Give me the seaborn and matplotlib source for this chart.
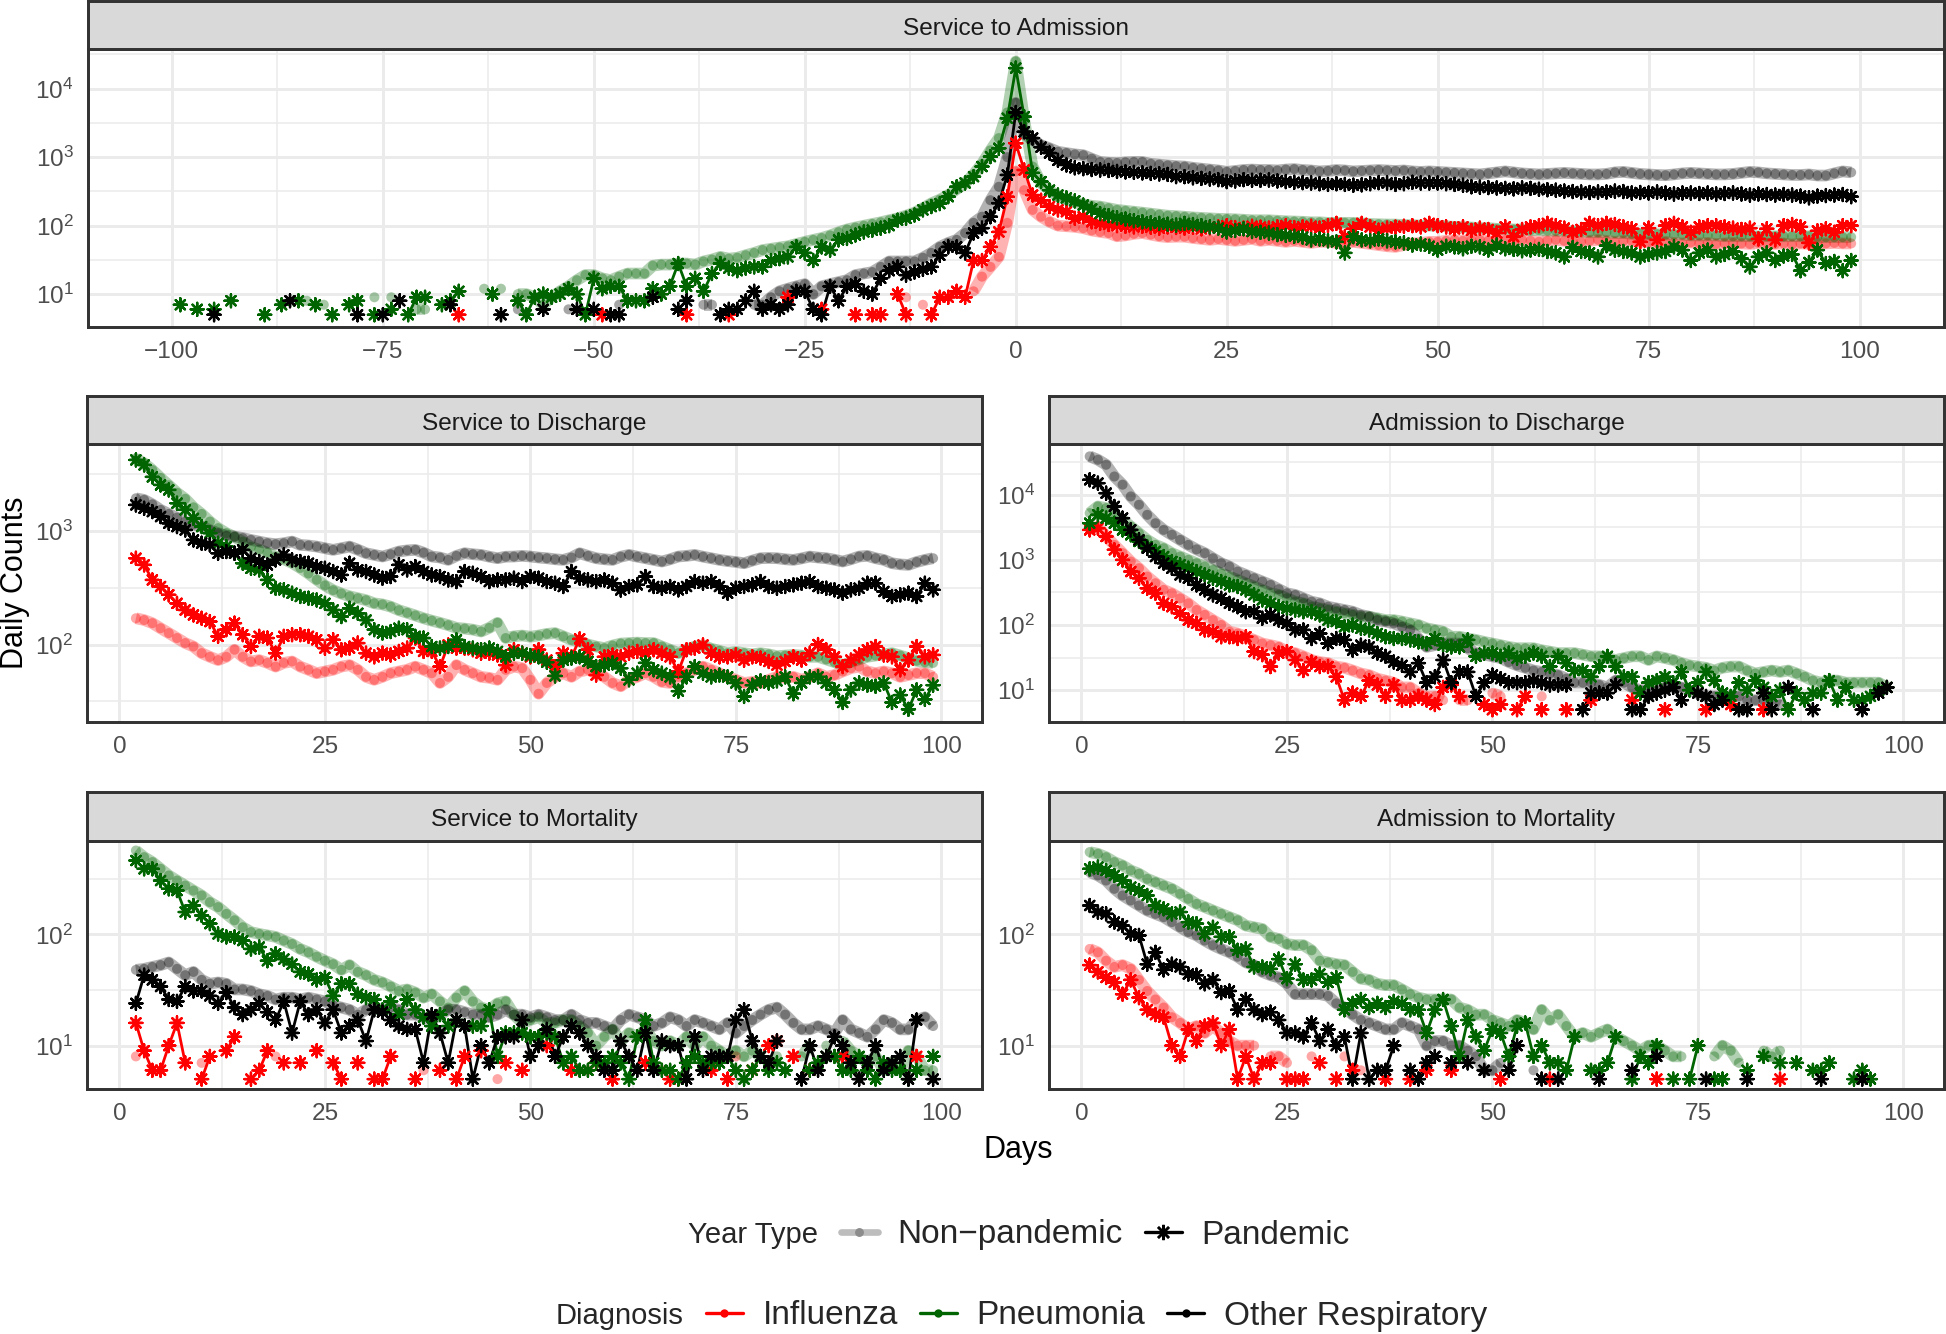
#!/usr/bin/env python3

import numpy as np
import pandas as pd
import seaborn as sns
import matplotlib
matplotlib.use("Agg")
import matplotlib.pyplot as plt
from matplotlib import ticker
from matplotlib.lines import Line2D

N = None

PANELS = ["Service to Admission", "Service to Discharge", "Admission to Discharge",
          "Service to Mortality", "Admission to Mortality"]
DIAGNOSES = ["Influenza", "Pneumonia", "Other Respiratory"]
YEAR_LABELS = ["Non\u2212pandemic", "Pandemic"]
COLORS = {"Influenza": "red", "Pneumonia": "darkgreen", "Other Respiratory": "black"}

top_days = list(range(-100, 100))
low_days = list(range(0, 100))

# ---------------- Service to Admission (days -100..99)
sa_flu_np = [None] * 80 + [
    N, N, N, N, N, N, N, 9, N, 7,
    N, N, N, N, N, 11, 18, 25, 35, 110,
    620, 330, 170, 135, 114, 100, 98, 96, 92, 85,
    81, 78, 70, 72, 76, 78, 74, 70, 68, 69,
    69, 66, 64, 62, 64, 62, 60, 62, 64, 60,
    62, 60, 58, 60, 58, 56, 58, 58, 56, 55,
    58, 56, 54, 52, 50, 49, 52, 55, 56, 58,
    58, 60, 62, 60, 62, 62, 60, 58, 62, 60,
    62, 60, 58, 60, 62, 60, 60, 58, 60, 62,
    60, 58, 60, 60, 58, 57, 56, 58, 56, 55,
    57, 55, 56, 54, 55, 56, 55, 54, 56, 55,
    54, 55, 53, 55, 54, 56, 55, 56, 55, 55,
]
sa_flu_p = [None] * 30 + [
    N, N, N, N, 5, N, N, N, N, N,
    N, N, N, N, N, N, N, N, N, N,
    N, 5, N, N, N, N, N, N, N, N,
    N, 5, N, N, N, N, 5, N, N, N,
    N, N, N, 9, N, N, N, 6, N, N,
    N, 5, N, 5, 5, N, 10, 5, N, N,
    5, 9, 9, 11, 9, 31, 31, 49, 81, 264,
    1600, 650, 280, 235, 190, 170, 160, 128, 135, 114,
    108, 104, 100, 98, 96, 98, 95, 92, 96, 94,
    92, 95, 90, 93, 96, 100, 94, 92, 98, 95,
    92, 96, 100, 94, 96, 98, 92, 100, 108, 69,
    90, 108, 96, 86, 92, 95, 98, 100, 96, 108,
    100, 96, 90, 96, 85, 92, 88, 78, 96, 69,
    88, 96, 100, 108, 100, 92, 80, 88, 108, 100,
    108, 104, 96, 90, 58, 92, 62, 100, 108, 96,
    80, 96, 100, 100, 96, 92, 88, 92, 64, 90,
    62, 100, 104, 96, 56, 84, 90, 80, 100, 100,
]
sa_pn_np = [None] * 10 + [
    N, N, N, N, N, N, 8, N, 7, N,
    N, N, N, N, 9, N, 9, N, N, 6,
    6, N, N, N, N, N, N, 12, N, 12,
    N, 10, 10, 9, 7, 9, 11, 13, 16, 19,
    19, 17, 16, 18, 20, 20, 20, 26, 27, 27,
    28, 28, 27, 30, 32, 35, 33, 34, 37, 40,
    44, 46, 48, 50, 54, 58, 62, 66, 72, 80,
    88, 94, 100, 106, 112, 120, 128, 140, 155, 180,
    212, 240, 280, 340, 420, 560, 800, 1260, 1900, 4500,
    25000, 3500, 730, 420, 330, 264, 240, 220, 205, 195,
    190, 180, 170, 165, 160, 155, 150, 145, 140, 138,
    135, 132, 130, 128, 126, 125, 124, 122, 120, 120,
    120, 118, 116, 115, 114, 112, 112, 110, 110, 110,
    110, 108, 106, 105, 104, 104, 102, 102, 100, 100,
    100, 98, 96, 95, 94, 92, 92, 90, 90, 88,
    88, 86, 86, 85, 84, 84, 82, 82, 80, 80,
    80, 78, 78, 76, 76, 75, 75, 74, 74, 74,
    72, 72, 72, 72, 70, 70, 70, 70, 70, 70,
    70, 70, 70, 70, 70, 68, 68, 68, 68, 68,
]
sa_pn_p = [
    N, 7, N, 6, N, 6, N, 8, N, N,
    N, 5, N, 7, N, 8, N, 7, N, 5,
    N, 7, 8, N, 5, N, 6, N, 5, 9,
    9, N, 7, 8, 11, N, N, N, 10, N,
    N, 8, 5, 9, 10, 9, 10, 12, 10, 5,
    17, 12, 13, 13, 8, 8, 8, 12, 10, 13,
    28, 13, 17, 11, 20, 28, 24, 22, 24, 25,
    25, 31, 33, 35, 49, 40, 31, 49, 44, 62,
    65, 73, 81, 86, 92, 100, 120, 128, 143, 170,
    190, 210, 265, 370, 420, 520, 730, 1020, 1350, 3700,
    20000, 3900, 590, 440, 330, 280, 255, 230, 200, 175,
    150, 140, 130, 125, 118, 114, 110, 108, 105, 102,
    108, 104, 100, 96, 92, 81, 85, 90, 82, 80,
    78, 74, 72, 70, 68, 62, 64, 60, 58, 40,
    69, 62, 60, 64, 60, 58, 56, 52, 54, 50,
    44, 50, 49, 46, 50, 49, 44, 52, 46, 45,
    43, 44, 45, 42, 40, 35, 48, 42, 40, 35,
    51, 44, 42, 40, 35, 38, 40, 42, 49, 44,
    31, 40, 44, 35, 38, 42, 33, 25, 35, 40,
    31, 36, 38, 22, 29, 44, 28, 30, 22, 31,
]
sa_or_np = [None] * 40 + [
    N, 6, N, N, N, N, N, 6, N, N,
    N, N, N, 7, N, N, N, N, N, N,
    N, N, N, 7, 7, N, N, N, N, 7,
    7, 9, 11, 12, 13, 14, 10, 13, 14, 15,
    16, 19, 20, 21, 25, 30, 30, 30, 30, 34,
    40, 49, 56, 62, 78, 110, 135, 235, 370, 1000,
    6200, 2200, 1780, 1500, 1350, 1200, 1150, 1100, 1070, 950,
    850, 830, 820, 840, 850, 850, 800, 780, 760, 740,
    730, 700, 680, 660, 640, 610, 630, 650, 660, 650,
    650, 640, 660, 670, 650, 640, 620, 630, 650, 640,
    620, 630, 640, 650, 640, 630, 640, 620, 610, 620,
    610, 600, 590, 580, 570, 560, 580, 600, 620, 600,
    580, 570, 560, 570, 580, 590, 580, 570, 560, 560,
    570, 600, 610, 590, 570, 560, 550, 545, 560, 580,
    590, 580, 570, 560, 560, 570, 590, 610, 600, 580,
    570, 560, 550, 550, 560, 540, 540, 580, 620, 600,
]
sa_or_p = [
    N, N, N, N, N, 5, N, N, N, N,
    N, N, N, N, 8, N, N, N, N, N,
    N, N, 5, N, N, 5, N, 8, N, N,
    N, N, N, 7, N, N, N, N, N, 5,
    N, N, N, N, 6, N, N, N, 6, N,
    6, N, 5, 5, N, N, N, 9, N, N,
    6, 8, N, N, N, 5, 6, 6, 8, 11,
    6, 7, 6, 7, 11, 11, 6, 5, 13, 8,
    13, 14, 11, 10, 17, 22, 25, 19, 21, 23,
    25, 37, 49, 49, 40, 78, 92, 135, 213, 550,
    4500, 2350, 1900, 1400, 1150, 900, 770, 700, 680, 660,
    650, 640, 620, 610, 600, 590, 580, 570, 560, 520,
    520, 500, 490, 480, 470, 440, 450, 470, 460, 460,
    465, 450, 440, 430, 425, 420, 410, 400, 410, 400,
    390, 395, 410, 425, 420, 400, 410, 430, 420, 420,
    420, 410, 400, 390, 370, 365, 360, 355, 350, 345,
    355, 350, 340, 335, 330, 320, 315, 310, 305, 310,
    310, 320, 315, 300, 305, 300, 310, 300, 290, 300,
    300, 295, 300, 290, 295, 300, 290, 280, 290, 285,
    280, 285, 280, 270, 255, 270, 275, 280, 285, 265,
]

# ---------------- Service to Discharge (days 0..99)
sd_flu_np = [
    N, N, 170, 164, 154, 139, 126, 114, 103, 96,
    84, 78, 73, 78, 90, 78, 71, 73, 69, 64,
    69, 71, 64, 60, 56, 58, 60, 64, 66, 60,
    52, 49, 52, 56, 58, 60, 64, 60, 56, 46,
    52, 66, 60, 56, 52, 51, 49, 60, 64, 62,
    49, 37, 46, 52, 56, 52, 58, 60, 56, 52,
    46, 43, 49, 52, 56, 52, 47, 46, 52, 56,
    60, 64, 60, 56, 52, 49, 46, 47, 46, 49,
    52, 51, 52, 49, 52, 56, 52, 54, 58, 62,
    64, 58, 56, 58, 56, 52, 54, 56, 56, 52,
]
sd_flu_p = [
    N, N, 572, 500, 369, 323, 273, 230, 201, 182,
    170, 159, 118, 135, 154, 122, 96, 118, 114, 84,
    118, 122, 122, 118, 110, 93, 110, 90, 93, 103,
    84, 78, 84, 81, 87, 93, 114, 87, 87, 64,
    99, 93, 93, 90, 84, 84, 81, 66, 90, 84,
    78, 90, 73, 64, 84, 78, 112, 90, 54, 78,
    81, 78, 84, 87, 84, 90, 84, 78, 58, 90,
    93, 99, 84, 78, 78, 81, 73, 78, 76, 71,
    66, 71, 78, 73, 84, 100, 90, 78, 64, 73,
    81, 90, 96, 81, 78, 60, 73, 96, 78, 81,
]
sd_pn_np = [
    N, N, 4310, 3900, 3400, 2900, 2500, 2150, 1900, 1600,
    1400, 1200, 1050, 950, 880, 800, 720, 680, 640, 590,
    560, 520, 470, 420, 370, 330, 300, 280, 265, 255,
    245, 230, 225, 215, 200, 190, 180, 170, 162, 155,
    148, 140, 138, 135, 130, 140, 155, 114, 118, 120,
    117, 120, 124, 126, 118, 110, 106, 100, 96, 93,
    98, 102, 103, 104, 103, 103, 96, 90, 84, 90,
    96, 98, 92, 88, 84, 86, 84, 82, 84, 82,
    79, 80, 81, 80, 78, 78, 74, 70, 66, 70,
    74, 78, 80, 82, 84, 80, 76, 72, 70, 69,
]
sd_pn_p = [
    N, N, 4170, 3770, 2960, 2515, 2275, 1740, 1520, 1280,
    1084, 950, 775, 724, 633, 517, 467, 452, 369, 312,
    302, 282, 264, 255, 246, 230, 201, 176, 208, 188,
    164, 135, 126, 130, 139, 135, 118, 114, 96, 93,
    96, 110, 96, 93, 90, 93, 87, 78, 84, 84,
    80, 78, 70, 53, 73, 76, 78, 71, 64, 66,
    69, 62, 49, 56, 69, 60, 56, 52, 39, 52,
    64, 56, 52, 54, 52, 46, 35, 44, 48, 46,
    48, 52, 37, 46, 52, 52, 46, 40, 31, 40,
    46, 44, 43, 46, 31, 36, 27, 40, 33, 44,
]
sd_or_np = [
    N, N, 1920, 1860, 1700, 1520, 1400, 1300, 1200, 1130,
    1084, 1010, 950, 900, 886, 860, 828, 800, 775, 760,
    775, 801, 749, 740, 724, 700, 677, 700, 724, 680,
    633, 612, 592, 620, 655, 670, 677, 640, 592, 580,
    553, 600, 633, 620, 612, 590, 572, 590, 592, 600,
    592, 580, 572, 560, 553, 580, 633, 600, 572, 560,
    553, 590, 612, 590, 572, 553, 535, 560, 592, 600,
    612, 590, 572, 553, 540, 530, 517, 545, 572, 575,
    572, 560, 553, 570, 592, 580, 572, 555, 535, 560,
    592, 600, 572, 553, 517, 505, 500, 530, 553, 572,
]
sd_or_p = [
    N, N, 1680, 1570, 1468, 1327, 1160, 1084, 1013, 828,
    775, 749, 633, 655, 633, 677, 572, 535, 500, 553,
    612, 553, 535, 517, 483, 467, 437, 408, 517, 452,
    437, 408, 382, 395, 500, 452, 483, 437, 408, 395,
    369, 357, 437, 422, 395, 357, 369, 369, 382, 357,
    395, 382, 357, 345, 323, 437, 382, 369, 357, 369,
    345, 301, 323, 334, 395, 323, 312, 323, 302, 323,
    357, 345, 357, 323, 282, 312, 323, 334, 357, 323,
    312, 323, 334, 345, 357, 323, 312, 302, 282, 302,
    312, 345, 345, 292, 264, 273, 282, 264, 345, 302,
]

# ---------------- Admission to Discharge (days 0..99)
ad_flu_np = [
    N, 2890, 3260, 2290, 1700, 1270, 943, 745, 555, 438,
    346, 307, 257, 215, 170, 143, 119, 100, 79, 74,
    66, 59, 52, 49, 46, 39, 37, 33, 29, 27,
    26, 23, 22, 20, 18, 17, 15, 14, 13, 11,
    11, 9, 8, 8, 7, N, 7, 7, N, N,
    9, 8, N, N, N, N, 8, N, N, N,
] + [None] * 40
ad_flu_p = [
    N, 2890, 3070, 2290, 1430, 1000, 662, 523, 367, 307,
    215, 191, 151, 119, 106, 84, 79, 66, 66, 62,
    66, 39, 35, 23, 37, 39, 29, 20, 27, 23,
    23, 16, 7, 9, 8, 14, 12, 8, 12, 7,
    7, 8, 7, 6, 11, 12, 8, N, N, 6,
    5, 6, N, 5, 8, N, 5, N, N, 5,
    N, N, 7, N, N, N, N, 7, N, N,
    N, 5, N, N, N, N, 5, N, N, 6,
    N, N, N, 5, N, N, N, N, N, N,
] + [None] * 10
ad_pn_np = [
    N, 5220, 6620, 6240, 4920, 4120, 3260, 2570, 2030, 1700,
    1510, 1270, 1125, 1000, 890, 790, 700, 620, 555, 494,
    438, 390, 346, 307, 290, 257, 228, 215, 191, 180,
    170, 160, 151, 143, 134, 134, 127, 119, 119, 113,
    106, 100, 89, 84, 79, 66, 66, 62, 59, 55,
    52, 49, 46, 44, 44, 44, 41, 39, 37, 37,
    37, 35, 33, 33, 31, 29, 31, 33, 33, 29,
    33, 31, 29, 26, 24, 23, 22, 20, 22, 23,
    23, 20, 18, 19, 20, 19, 20, 18, 16, 14,
    13, 14, 14, 13, 13, 13, 13, 13, 11, N,
]
ad_pn_p = [
    N, 3660, 4920, 4380, 3660, 2890, 2430, 1920, 1600, 1350,
    1125, 943, 838, 745, 662, 588, 523, 465, 413, 390,
    346, 290, 243, 215, 191, 180, 170, 160, 160, 143,
    119, 113, 94, 100, 89, 84, 74, 66, 62, 62,
    59, 55, 52, 62, 49, 46, 46, 59, 33, 37,
    37, 33, 37, 31, 33, 37, 33, 23, 33, 26,
    20, 20, 16, 23, 33, 23, 16, 16, 9, 13,
    14, 16, 13, 19, 10, 13, 19, 14, 9, 8,
    13, 10, 14, 11, 8, 10, 5, 9, 7, 9,
    9, 14, 7, 11, 7, 7, 8, 10, 11, N,
]
ad_or_np = [
    N, 38900, 34500, 28900, 19100, 14300, 9430, 7020, 4920, 3660,
    2890, 2430, 2030, 1700, 1450, 1270, 1060, 890, 790, 662,
    588, 523, 465, 413, 355, 307, 290, 257, 228, 215,
    191, 180, 170, 160, 143, 134, 119, 113, 106, 94,
    84, 62, 46, 49, 52, 52, 52, 44, 37, 35,
    33, 31, 27, 24, 22, 20, 19, 18, 17, 15,
    13, 13, 13, 12, 11, 14, 13, 11, 10, 10,
    10, 11, 11, 11, 10, 9, 8, 8, 8, 8,
    8, 7, 7, 7, 7, 6, N, N, N, N,
] + [None] * 10
ad_or_p = [
    N, 17000, 15100, 10600, 6620, 4380, 2890, 2030, 1510, 1125,
    890, 745, 588, 523, 413, 346, 290, 257, 215, 191,
    160, 160, 127, 143, 119, 106, 84, 84, 62, 74,
    52, 62, 59, 41, 49, 46, 37, 33, 27, 24,
    19, 26, 13, 16, 29, 13, 19, 19, 8, 13,
    17, 15, 13, 13, 13, 14, 13, 12, 12, 12,
    N, 5, 9, 9, 9, 12, N, 5, 5, 8,
    9, 10, 11, 7, N, 9, 8, 6, 7, N,
    5, 5, N, 9, 5, N, 11, N, N, 5,
    N, N, N, N, N, 5, N, 9, 11, N,
]

# ---------------- Service to Mortality (days 0..99)
sm_flu_np = [
    N, N, 8, N, N, N, N, N, N, N,
    7, N, N, N, N, N, N, N, N, 8,
    N, N, N, N, N, N, N, N, N, N,
    N, N, N, N, N, N, N, 6, N, N,
    N, N, N, N, N, N, 5, N, N, N,
    N, N, N, N, N, N, N, 6, N, N,
    N, N, N, N, N, N, 6, N, N, N,
    N, N, N, N, N, 8, N, N, N, N,
] + [None] * 20
sm_flu_p = [
    N, N, 16, 9, 6, 6, 10, 16, 7, N,
    5, 8, N, 9, 12, N, 5, 6, 9, N,
    7, N, 7, N, 9, N, 7, 5, N, 7,
    N, 5, 5, 8, N, N, 5, N, N, 6,
    N, 5, 8, N, 9, N, N, 7, N, 6,
    N, N, 10, N, N, 6, N, N, 7, N,
    5, N, N, N, 7, N, N, 5, 5, N,
    N, N, 6, N, 5, N, N, 6, N, 10,
    11, N, 8, N, 6, N, N, N, 8, N,
    N, N, N, N, N, N, N, 8, N, N,
]
sm_pn_np = [
    N, N, 568, 495, 447, 389, 339, 305, 275, 248,
    224, 195, 176, 153, 134, 116, 105, 101, 98, 95,
    88, 82, 74, 69, 63, 58, 54, 48, 53, 46,
    43, 39, 37, 34, 31, 32, 30, 27, 29, 25,
    22, 27, 31, 25, 22, 21, 24, 25, 19, 16,
    17, 18, 16, 16, 17, 17, 15, 13, 10, 12,
    14, 11, 13, 12, 14, 11, 10, 11, 10, 12,
    10, 12, 10, 9, 8, 9, 8, 9, 8, N,
    8, N, N, 8, 10, N, 10, N, 11, 9,
    8, 7, 8, 6, 7, 6, 9, 8, 6, 6,
]
sm_pn_p = [
    N, N, 462, 389, 389, 305, 257, 248, 159, 182,
    148, 125, 101, 95, 95, 88, 74, 77, 58, 67,
    60, 54, 46, 44, 39, 41, 28, 36, 36, 29,
    27, 26, 21, 25, 19, 26, 21, 18, 15, 19,
    15, 17, 15, 15, 15, 21, 8, 13, 13, 13,
    12, 12, 13, 12, 7, 8, 6, 6, 7, 7,
    8, 7, 5, 12, 17, 7, 6, 6, 5, 7,
    8, 7, 7, 7, 8, 6, 5, 6, 8, 6,
    7, 6, N, N, 6, 7, 8, 8, 6, 6,
    8, 6, 5, 7, 6, 6, 5, 6, N, 8,
]
sm_or_np = [
    N, N, 48, 49, 51, 53, 56, 49, 43, 46,
    39, 36, 37, 36, 32, 32, 31, 29, 28, 26,
    27, 27, 26, 27, 26, 25, 23, 22, 21, 19,
    21, 22, 21, 22, 21, 19, 19, 18, 17, 19,
    21, 21, 20, 19, 19, 18, 19, 21, 19, 19,
    18, 19, 18, 17, 17, 19, 17, 16, 16, 15,
    14, 17, 19, 18, 17, 15, 16, 18, 17, 15,
    17, 16, 15, 14, 16, 13, 15, 17, 19, 21,
    22, 19, 16, 14, 14, 15, 14, 13, 17, 14,
    13, 12, 14, 17, 16, 14, 14, 17, 18, 15,
]
sm_or_p = [
    N, N, 24, 43, 39, 34, 26, 25, 34, 31,
    31, 28, 24, 30, 22, 19, 21, 24, 20, 17,
    25, 13, 25, 19, 21, 16, 21, 13, 15, 17,
    11, 21, 20, 17, 15, 14, 14, 7, 19, 13,
    7, 17, 15, 5, 10, 7, 12, 12, 12, 17,
    8, 10, 14, 8, 12, 15, 13, 10, 8, 6,
    6, 11, 8, 6, 13, 6, 11, 10, 10, 5,
    12, 6, 8, 8, 8, 17, 21, 11, 8, 7,
    11, N, N, 5, 10, 6, 8, 12, 10, 7,
    5, 7, 10, 6, 7, 8, 5, 17, N, 5,
]

# ---------------- Admission to Mortality (days 0..99)
am_flu_np = [
    N, 74, 69, 58, 51, 53, 49, 39, 31, 26,
    22, 18, 16, 14, 15, 13, 15, 13, 11, 10,
    10, 10, N, 8, 8, 7, N, N, 8, N,
    N, N, 8, N, 6, N, N, N, N, N,
] + [None] * 60
am_flu_p = [
    N, 53, 46, 41, 37, 29, 39, 27, 21, 19,
    18, 10, 8, 14, 11, 15, 16, 10, 14, 5,
    8, 5, 7, 7, N, 5, 5, 5, N, 7,
    N, 5, N, 6, N, N, N, 5, N, N,
    5, N, 6, N, N, 6, N, N, N, N,
    N, 5, N, N, N, N, N, 5, N, N,
    N, N, N, N, N, N, N, N, N, N,
    5, N, N, N, N, N, N, N, N, N,
    N, N, N, N, N, 5, N, N, N, N,
    N, N, N, N, N, N, N, N, N, N,
]
am_pn_np = [
    N, 550, 531, 495, 447, 417, 376, 351, 316, 295,
    275, 257, 232, 209, 188, 176, 164, 153, 143, 134,
    120, 116, 112, 95, 91, 82, 80, 80, 72, 58,
    56, 54, 53, 46, 40, 39, 36, 35, 35, 32,
    29, 27, 26, 26, 26, 26, 22, 21, 19, 19,
    17, 16, 15, 17, 16, 14, 21, 17, 19, 15,
    12, 13, 12, 13, 14, 12, 11, 10, 9, 10,
    10, 9, 8, 8, N, N, N, 8, 10, 9,
    7, N, N, 9, 8, 9, N, N, N, N,
] + [None] * 10
am_pn_p = [
    N, 389, 403, 376, 339, 305, 266, 248, 224, 182,
    170, 153, 159, 129, 125, 101, 116, 95, 95, 72,
    74, 51, 51, 49, 60, 40, 54, 39, 39, 44,
    37, 41, 21, 24, 26, 22, 24, 22, 25, 24,
    21, 21, 13, 21, 26, 15, 8, 17, 12, 9,
    14, 13, 8, 15, 16, 8, 10, 7, 7, 6,
    12, N, 6, 6, 7, 12, N, 5, 8, 7,
    10, N, 5, N, 5, 10, N, 5, 5, N,
    N, 6, N, 8, N, 7, N, 7, N, 6,
    6, 7, N, N, 5, 6, 5, N, N, N,
]
am_or_np = [
    N, 363, 339, 305, 257, 224, 202, 182, 164, 153,
    143, 129, 116, 105, 98, 88, 80, 74, 69, 63,
    56, 53, 46, 43, 41, 36, 29, 29, 29, 29,
    28, 24, 22, 19, 17, 16, 15, 14, 14, 16,
    15, 14, 10, 11, 11, 10, 10, 9, 8, 6,
    6, 7, N, N, N, 6, N, N, 5, N,
] + [None] * 40
am_or_p = [
    N, 182, 159, 153, 129, 120, 101, 98, 54, 69,
    48, 54, 51, 44, 43, 36, 39, 30, 31, 21,
    26, 21, 19, 20, 17, 13, 13, 12, 16, 11,
    14, 10, 12, 5, 13, 5, 6, 6, 10, N,
    6, 5, 7, 8, N, 7, N, 7, N, 6,
    N, N, 6, 10, N, N, 5, N, 5, N,
    N, N, N, 5, N, N, N, 6, N, N,
    8, N, N, N, N, N, 5, N, N, N,
    N, 5, N, N, N, N, N, N, N, N,
    5, N, N, N, N, 5, N, N, N, N,
]

series = [
    ("Service to Admission", "Influenza", "Non-pandemic", sa_flu_np),
    ("Service to Admission", "Pneumonia", "Non-pandemic", sa_pn_np),
    ("Service to Admission", "Other Respiratory", "Non-pandemic", sa_or_np),
    ("Service to Admission", "Influenza", "Pandemic", sa_flu_p),
    ("Service to Admission", "Pneumonia", "Pandemic", sa_pn_p),
    ("Service to Admission", "Other Respiratory", "Pandemic", sa_or_p),
    ("Service to Discharge", "Influenza", "Non-pandemic", sd_flu_np),
    ("Service to Discharge", "Pneumonia", "Non-pandemic", sd_pn_np),
    ("Service to Discharge", "Other Respiratory", "Non-pandemic", sd_or_np),
    ("Service to Discharge", "Influenza", "Pandemic", sd_flu_p),
    ("Service to Discharge", "Pneumonia", "Pandemic", sd_pn_p),
    ("Service to Discharge", "Other Respiratory", "Pandemic", sd_or_p),
    ("Admission to Discharge", "Influenza", "Non-pandemic", ad_flu_np),
    ("Admission to Discharge", "Pneumonia", "Non-pandemic", ad_pn_np),
    ("Admission to Discharge", "Other Respiratory", "Non-pandemic", ad_or_np),
    ("Admission to Discharge", "Influenza", "Pandemic", ad_flu_p),
    ("Admission to Discharge", "Pneumonia", "Pandemic", ad_pn_p),
    ("Admission to Discharge", "Other Respiratory", "Pandemic", ad_or_p),
    ("Service to Mortality", "Influenza", "Non-pandemic", sm_flu_np),
    ("Service to Mortality", "Pneumonia", "Non-pandemic", sm_pn_np),
    ("Service to Mortality", "Other Respiratory", "Non-pandemic", sm_or_np),
    ("Service to Mortality", "Influenza", "Pandemic", sm_flu_p),
    ("Service to Mortality", "Pneumonia", "Pandemic", sm_pn_p),
    ("Service to Mortality", "Other Respiratory", "Pandemic", sm_or_p),
    ("Admission to Mortality", "Influenza", "Non-pandemic", am_flu_np),
    ("Admission to Mortality", "Pneumonia", "Non-pandemic", am_pn_np),
    ("Admission to Mortality", "Other Respiratory", "Non-pandemic", am_or_np),
    ("Admission to Mortality", "Influenza", "Pandemic", am_flu_p),
    ("Admission to Mortality", "Pneumonia", "Pandemic", am_pn_p),
    ("Admission to Mortality", "Other Respiratory", "Pandemic", am_or_p),
]

W, H = 1946, 1334
GRID = "#EBEBEB"
DARK = "#333333"


def loadData():
    rows = []
    seg = 0
    for panel, diag, ytype, vals in series:
        days = top_days if panel == PANELS[0] else low_days
        assert len(vals) == len(days), (panel, diag, ytype, len(vals))
        seg += 1
        for day, v in zip(days, vals):
            if v is None:
                # a gap breaks the line, as in the original
                seg += 1
                continue
            rows.append((panel, diag, ytype, day, v, seg))
    return pd.DataFrame(rows, columns=["panel", "diagnosis", "year_type", "day", "count", "seg"])


def rect(x0, y0, x1, y1):
    return [x0 / W, 1 - y1 / H, (x1 - x0) / W, (y1 - y0) / H]


def drawPanel(ax, d):
    ax.set_yscale("log")
    npd = d[d["year_type"] == "Non-pandemic"]
    pdd = d[d["year_type"] == "Pandemic"]
    common = dict(x="day", y="count", hue="diagnosis", hue_order=DIAGNOSES,
                  palette=COLORS, legend=False, ax=ax)
    sns.lineplot(data=npd, units="seg", estimator=None, linewidth=4.2, alpha=0.3,
                 solid_joinstyle="round", solid_capstyle="butt", zorder=2, **common)
    sns.scatterplot(data=npd, s=13, alpha=0.35, linewidth=0, zorder=2.1, **common)
    sns.lineplot(data=pdd, units="seg", estimator=None, linewidth=1.0, zorder=3, **common)
    sns.scatterplot(data=pdd, marker=(8, 2, 0), s=22, linewidth=0.85, zorder=3.1, **common)
    ax.set_xlabel("")
    ax.set_ylabel("")


def styleAxis(ax, xmaj, xmin, xlim, ylog):
    ax.set_xlim(*xlim)
    ax.set_ylim(10 ** ylog[0], 10 ** ylog[1])
    ax.xaxis.set_major_locator(ticker.FixedLocator(xmaj))
    ax.xaxis.set_minor_locator(ticker.FixedLocator(xmin))
    ax.xaxis.set_major_formatter(ticker.FuncFormatter(
        lambda v, p: ("%g" % v).replace("-", "\u2212")))
    ax.yaxis.set_major_locator(ticker.FixedLocator([10, 100, 1000, 10000]))
    ax.yaxis.set_minor_locator(ticker.FixedLocator([10 ** (k + 0.5) for k in range(0, 5)]))
    ax.yaxis.set_major_formatter(ticker.FuncFormatter(
        lambda v, p: r"$\mathdefault{10^{%d}}$" % int(round(np.log10(v)))))
    ax.yaxis.set_minor_formatter(ticker.NullFormatter())
    ax.set_axisbelow(True)
    ax.grid(which="major", color=GRID, linewidth=1.07)
    ax.grid(which="minor", color=GRID, linewidth=0.55)
    ax.tick_params(which="major", length=2.75, width=1.07, color=DARK,
                   labelsize=8.8, labelcolor="#4D4D4D", pad=2.2)
    ax.tick_params(which="minor", length=0)
    for sp in ax.spines.values():
        sp.set_color(DARK)
        sp.set_linewidth(1.07)
    ax.set_facecolor("white")


def addStrip(fig, box, title):
    sax = fig.add_axes(rect(*box))
    sax.set_facecolor("#D9D9D9")
    sax.set_xticks([])
    sax.set_yticks([])
    for sp in sax.spines.values():
        sp.set_color(DARK)
        sp.set_linewidth(1.07)
    sax.text(0.5, 0.47, title, ha="center", va="center_baseline", transform=sax.transAxes,
             fontsize=8.8, color="#1A1A1A")


def plotFig():
    d = loadData()
    sns.set_style("white")
    plt.rcParams["font.family"] = ["Liberation Sans", "DejaVu Sans"]
    plt.rcParams["mathtext.fontset"] = "custom"
    plt.rcParams["mathtext.rm"] = "Liberation Sans"
    plt.rcParams["mathtext.it"] = "Liberation Sans:italic"
    plt.rcParams["mathtext.bf"] = "Liberation Sans:bold"

    fig = plt.figure(figsize=(W / 200, H / 200), dpi=200)
    fig.patch.set_facecolor("white")

    layout = {
        "Service to Admission": ((87.5, 49, 1944, 327), (87.5, 1, 1944, 49)),
        "Service to Discharge": ((87, 444, 982, 722), (87, 396, 982, 444)),
        "Admission to Discharge": ((1049, 444, 1944, 722), (1049, 396, 1944, 444)),
        "Service to Mortality": ((87, 841, 982, 1089), (87, 792, 982, 841)),
        "Admission to Mortality": ((1049, 841, 1944, 1089), (1049, 792, 1944, 841)),
    }
    ylims = {
        "Service to Admission": (0.52, 4.58),
        "Service to Discharge": (1.32, 3.76),
        "Admission to Discharge": (0.51, 4.78),
        "Service to Mortality": (0.61, 2.84),
        "Admission to Mortality": (0.61, 2.84),
    }
    for panel in PANELS:
        box, sbox = layout[panel]
        ax = fig.add_axes(rect(*box))
        drawPanel(ax, d[d["panel"] == panel])
        if panel == PANELS[0]:
            styleAxis(ax, [-100, -75, -50, -25, 0, 25, 50, 75, 100],
                      [-87.5, -62.5, -37.5, -12.5, 12.5, 37.5, 62.5, 87.5],
                      (-110, 110), ylims[panel])
        else:
            styleAxis(ax, [0, 25, 50, 75, 100], [12.5, 37.5, 62.5, 87.5],
                      (-3.95, 104.95), ylims[panel])
        addStrip(fig, sbox, panel)

    fig.text(15 / W, 1 - 583 / H, "Daily Counts", rotation=90, ha="center", va="center",
             fontsize=11, color="black")
    fig.text(1018 / W, 1 - 1150 / H, "Days", ha="center", va="center", fontsize=11,
             color="black")

    # legends
    yt_handles = [
        Line2D([], [], color="#BDBDBD", lw=2.4, marker="o", ms=3.2, mfc="#8C8C8C", mec="none"),
        Line2D([], [], color="black", lw=1.2, marker=(8, 2, 0), ms=5.5, mew=0.9),
    ]
    dg_handles = [Line2D([], [], color=COLORS[k], lw=1.2, marker="o", ms=3, mec="none")
                  for k in DIAGNOSES]
    leg_kw = dict(loc="center left", frameon=False, fontsize=12, handlelength=1.1,
                  handletextpad=0.6, columnspacing=0.66, borderpad=0, borderaxespad=0)
    fig.legend(yt_handles, YEAR_LABELS, bbox_to_anchor=(841 / W, 1 - 1235 / H), ncol=2, **leg_kw)
    fig.text(818 / W, 1 - 1235 / H, "Year Type", ha="right", va="center", fontsize=10.5)
    fig.legend(dg_handles, DIAGNOSES, bbox_to_anchor=(706 / W, 1 - 1316 / H), ncol=3, **leg_kw)
    fig.text(683 / W, 1 - 1316 / H, "Diagnosis", ha="right", va="center", fontsize=10.5)

    fig.savefig("out.png", dpi=200, facecolor="white")


def main():
    plotFig()


if __name__ == "__main__":
    main()
